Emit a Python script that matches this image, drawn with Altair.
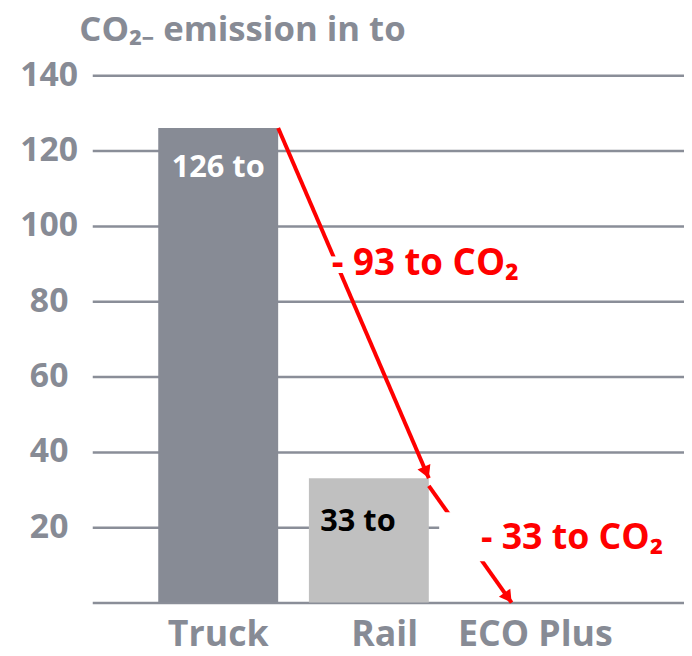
import altair as alt
import pandas as pd

categories = ["Truck", "Rail", "ECO Plus"]
bar_cats = ["Truck", "Rail"]
bar_values = [126, 33]
bar_labels = ["126 to", "33 to"]
y_ticks = [0, 20, 40, 60, 80, 100, 120, 140]

# arrows: (from category, from value) -> (to category, to value)
arrow1 = {"c1": "Truck", "v1": 126, "c2": "Rail", "v2": 33}
arrow2 = {"c1": "Rail", "v1": 31, "c2": "ECO Plus", "v2": 0}
red_labels = ["- 93 to  CO₂", "- 33 to CO₂"]
red_label_cats = ["Rail", "ECO Plus"]
red_label_vals = [90, 17]
mask_vals = [24, 11]  # white box behind the lower red label

GRAY = "#878b95"
RED = "#ff0000"
FONT = "Open Sans"

bars = pd.DataFrame({"cat": bar_cats, "val": bar_values, "lab": bar_labels})
a1 = pd.DataFrame([arrow1])
a2 = pd.DataFrame([arrow2])

xs = alt.Scale(domain=categories, paddingInner=0.204, paddingOuter=0.566, align=0.387)
ys = alt.Scale(domain=[0, 140], nice=False)

label_offset = {"condition": [{"test": "datum.value == 'Rail'", "value": 16},
                              {"test": "datum.value == 'ECO Plus'", "value": 16}],
                "value": 0}

xenc = alt.X("cat:N", scale=xs, sort=categories, title=None,
             axis=alt.Axis(domain=False, ticks=False, labelAngle=0, labelFontSize=36,
                           labelFontWeight="bold", labelColor=GRAY, labelFont=FONT,
                           labelPadding=15, labelOffset=label_offset))
yenc = alt.Y("val:Q", scale=ys, title=None,
             axis=alt.Axis(values=y_ticks, domain=False, ticks=False, grid=True,
                           gridColor="#8a8e98", gridWidth=2.5, gridOpacity=1,
                           labelFontSize=34, labelFontWeight="bold", labelColor=GRAY,
                           labelFont=FONT, labelAlign="center", labelPadding=44,
                           labelExpr="datum.value == 0 ? '' : datum.label"))

bar_layer = alt.Chart(bars).mark_bar(opacity=1).encode(
    x=xenc, y=yenc,
    color=alt.Color("cat:N", scale=alt.Scale(domain=bar_cats, range=["#878b95", "#c0c0c0"]), legend=None),
)

def xq(field):
    return alt.X(field, scale=xs, sort=categories)

def yq(field):
    return alt.Y(field, scale=ys)

truck_text = alt.Chart(bars).transform_filter(alt.datum.cat == "Truck").mark_text(
    fontSize=31, fontWeight="bold", font=FONT, baseline="middle", color="white", dy=40).encode(
    x=xq("cat:N"), y=yq("val:Q"), text="lab:N")
rail_text = alt.Chart(bars).transform_filter(alt.datum.cat == "Rail").mark_text(
    fontSize=31, fontWeight="bold", font=FONT, baseline="middle", color="black", dy=44, dx=-11).encode(
    x=xq("cat:N"), y=yq("val:Q"), text="lab:N")

rule1 = alt.Chart(a1).mark_rule(color=RED, strokeWidth=4, xOffset=60.5, x2Offset=60.5).encode(
    x=xq("c1:N"), x2="c2:N", y=yq("v1:Q"), y2="v2:Q")
head1 = alt.Chart(a1).mark_point(shape="triangle-up", filled=True, color=RED, size=200,
                                 opacity=1, angle=156.7, xOffset=58, yOffset=-6).encode(
    x=xq("c2:N"), y=yq("v2:Q"))

rule2 = alt.Chart(a2).mark_rule(color=RED, strokeWidth=4, xOffset=60.5, x2Offset=-8).encode(
    x=xq("c1:N"), x2="c2:N", y=yq("v1:Q"), y2="v2:Q")
head2 = alt.Chart(a2).mark_point(shape="triangle-up", filled=True, color=RED, size=200,
                                 opacity=1, angle=144.7, xOffset=-11.5, yOffset=-5).encode(
    x=xq("c2:N"), y=yq("v2:Q"))

mask = alt.Chart(pd.DataFrame({"top": [mask_vals[0]], "bot": [mask_vals[1]]})).mark_rect(
    color="white", opacity=1).encode(
    x=alt.value(350), x2=alt.value(597), y=yq("top:Q"), y2="bot:Q")

rl = pd.DataFrame({"cat": red_label_cats, "val": red_label_vals, "lab": red_labels})

def red_label(cat, dx, fs):
    base = alt.Chart(rl).transform_filter(alt.datum.cat == cat)
    halo = base.mark_text(fontSize=fs, fontWeight="bold", font=FONT, baseline="middle",
                          color="white", stroke="white", strokeWidth=12, dx=dx).encode(
        x=xq("cat:N"), y=yq("val:Q"), text="lab:N")
    txt = base.mark_text(fontSize=fs, fontWeight="bold", font=FONT, baseline="middle",
                         color=RED, dx=dx).encode(
        x=xq("cat:N"), y=yq("val:Q"), text="lab:N")
    return [halo, txt]

title = alt.Chart(pd.DataFrame({"t": ["CO₂₋ emission in to"]})).mark_text(
    fontSize=35, fontWeight="bold", font=FONT, color=GRAY, align="left", baseline="middle").encode(
    x=alt.value(-13), y=alt.value(-46), text="t:N")

layers = [bar_layer, truck_text, rail_text, rule1, head1, rule2, head2, mask]
layers += red_label("Rail", 57, 37) + red_label("ECO Plus", 53, 36)
layers.append(title)

chart = alt.layer(*layers).properties(
    width=597, height=532,
    autosize=alt.AutoSizeParams(type="none"),
    padding={"left": 85, "top": 65, "right": 0, "bottom": 51},
).configure_view(stroke=None)

chart.save("out.html", embed_options={"renderer": "svg", "actions": False})
